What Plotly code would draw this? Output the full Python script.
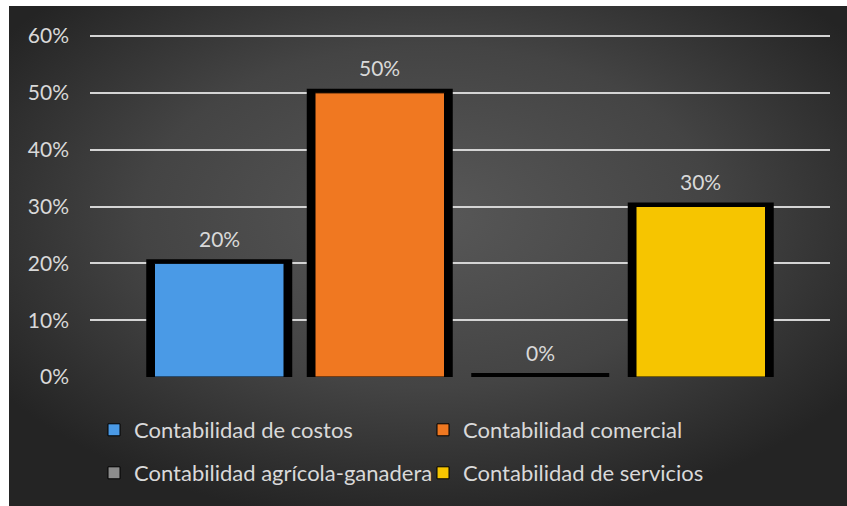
import base64
import plotly.graph_objects as go

# ---- data ----
series = ["Contabilidad de costos", "Contabilidad comercial",
          "Contabilidad agrícola-ganadera", "Contabilidad de servicios"]
values = [0.20, 0.50, 0.00, 0.30]
category = ["Total"]
colors = ["#4A9AE6", "#F07821", "#8C8C8C", "#F6C500"]
tick_vals = [0, 0.1, 0.2, 0.3, 0.4, 0.5, 0.6]

W, H = 847, 506
L, R, T, B = 90, 17, 35, 129
pw, ph = W - L - R, H - T - B

FONT = "Lato"
TXT = "#d9d9d9"

fig = go.Figure()

slot = 160.5 / pw
face_w = 129.5 / pw
shadow_w = 138.0 / pw
n = len(series)
for i, (name, v, c) in enumerate(zip(series, values, colors)):
    centre = (i - (n - 1) / 2) * slot
    # black shadow/frame
    fig.add_trace(go.Bar(
        x=category, y=[v], width=[shadow_w], offset=[centre - shadow_w / 2],
        marker=dict(color="#000000", line=dict(color="#000000", width=8)),
        showlegend=False, hoverinfo="skip", cliponaxis=False,
    ))
    fig.add_trace(go.Bar(
        x=category, y=[v], width=[face_w], offset=[centre - face_w / 2],
        name=name,
        marker=dict(color=c, line=dict(color="#000000", width=1)),
        legend="legend" if i < 2 else "legend2",
    ))
    fig.add_annotation(
        x=0.5 + centre, xref="x domain", y=v, yref="y",
        text=f"{v:.0%}", showarrow=False, yshift=25,
        xanchor="center", yanchor="middle",
        font=dict(family=FONT, size=21, color=TXT),
    )

# radial gradient background as svg image
svg = f'''<svg xmlns="http://www.w3.org/2000/svg" width="838" height="500" viewBox="0 0 838 500" preserveAspectRatio="none">
<defs><radialGradient id="g" cx="50%" cy="42%" r="62%">
<stop offset="0%" stop-color="#585858"/>
<stop offset="55%" stop-color="#444444"/>
<stop offset="100%" stop-color="#242424"/>
</radialGradient></defs>
<rect width="838" height="500" fill="url(#g)"/></svg>'''
src = "data:image/svg+xml;base64," + base64.b64encode(svg.encode()).decode()

fig.add_layout_image(dict(
    source=src, xref="paper", yref="paper",
    x=(9 - L) / pw, y=1 + (T - 6) / ph,
    sizex=(W - 9) / pw, sizey=(H - 6) / ph,
    xanchor="left", yanchor="top", sizing="stretch", layer="below",
))

legend_common = dict(
    orientation="h", font=dict(family=FONT, size=22, color=TXT),
    bgcolor="rgba(0,0,0,0)", entrywidth=284, entrywidthmode="pixels",
    xanchor="left", yanchor="middle", itemclick=False, itemdoubleclick=False,
)

fig.update_layout(
    width=W, height=H,
    margin=dict(l=L, r=R, t=T, b=B),
    paper_bgcolor="#ffffff",
    plot_bgcolor="rgba(0,0,0,0)",
    barmode="overlay",
    font=dict(family=FONT, size=21, color=TXT),
    xaxis=dict(visible=False, range=[-0.5, 0.5]),
    yaxis=dict(range=[0, 0.6018], tickvals=tick_vals, tickformat=".0%",
               showgrid=True, gridcolor="#d4d4d4", gridwidth=2,
               zeroline=False, showline=False, ticks="",
               ticklabelstandoff=20,
               tickfont=dict(family=FONT, size=21, color=TXT)),
    legend=dict(x=(94 - L) / pw, y=-(430 - 377) / ph, **legend_common),
    legend2=dict(x=(94 - L) / pw, y=-(473 - 377) / ph, **legend_common),
    showlegend=True,
)

fig.write_html("out.html")
